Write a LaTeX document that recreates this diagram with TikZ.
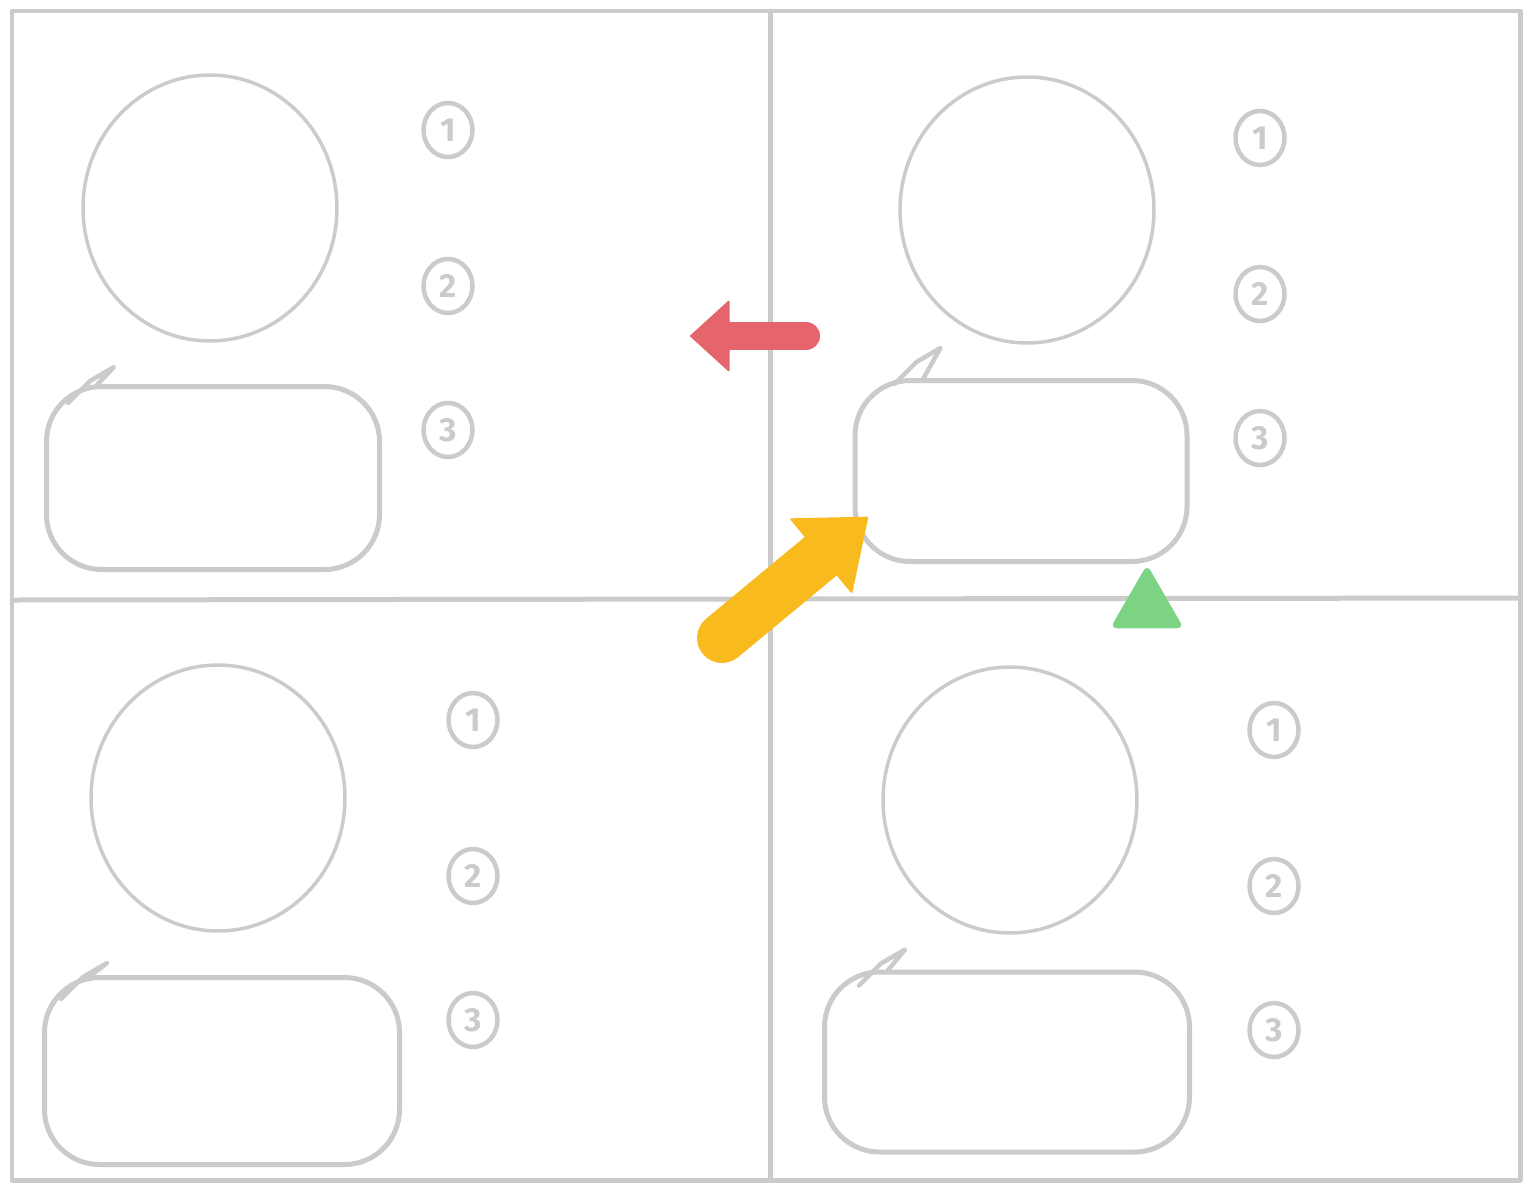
\documentclass[tikz,border=0pt]{standalone}
\usepackage{fontspec}
\setsansfont{Fira Sans}
\usetikzlibrary{arrows.meta,shapes.geometric}
\definecolor{Pencil}{HTML}{CBCBCB}
\definecolor{Coral}{HTML}{E6646B}
\definecolor{Amber}{HTML}{F8BA1D}
\definecolor{Leaf}{HTML}{7BD383}
\tikzset{
  pencil/.style={draw=Pencil,line width=0.1cm,line cap=round,line join=round},
  face/.style={
    ellipse,draw=Pencil,line width=0.07cm,
    minimum width=5.08cm,minimum height=5.32cm,inner sep=0pt
  },
  bubble/.style={
    rectangle,rounded corners=1.1cm,draw=Pencil,line width=0.1cm,inner sep=0pt
  },
  bubbletail/.style={draw=Pencil,line width=0.09cm,line join=round,line cap=round},
  badge/.style={
    ellipse,draw=Pencil,line width=0.09cm,minimum width=0.98cm,minimum height=1.08cm,
    inner sep=0pt,text=Pencil,font=\sffamily\bfseries\fontsize{19}{19}\selectfont
  },
  marker/.style={line width=#1,line cap=round,line join=round}
}

\begin{document}
\begin{tikzpicture}[x=0.02cm,y=-0.02cm]
  \useasboundingbox (0,0) rectangle (1523,1183);
  % page frame and gutters
  \draw[pencil] (12,11) rectangle (1520,1180);
  \draw[pencil] (770,11) -- (770,1180);
  \draw[pencil] (12,600) -- (1520,598);
  % four panels: face, speech bubble, numbered steps
  \foreach \p/\fx/\fy/\bx/\by/\bw/\bh/\tx/\ty/\nx/\ny in {
    tl/210/208/213/478/333/183/70/17/448/130,
    tr/1027/210/1021/471/332/181/88/30/1260/138,
    bl/218/798/222/1071/355/187/65/12/473/720,
    br/1010/800/1007/1062/365/180/83/20/1274/730}
  {
    \node[face] (\p-face) at (\fx,\fy) {};
    \node[bubble,minimum width=\bw*0.02cm,minimum height=\bh*0.02cm] (\p-bubble) at (\bx,\by) {};
    \coordinate (\p-tip) at ([shift={(\tx,-\ty)}]\p-bubble.north west);
    \draw[bubbletail] ([shift={(-46,36)}]\p-tip) -- ([shift={(-24,14)}]\p-tip)
      -- (\p-tip) -- ([shift={(-18,\ty+2)}]\p-tip);
    \node[badge] (\p-one) at (\nx,\ny) {1};
    \node[badge] (\p-two) at (\nx,\ny+156) {2};
    \node[badge] (\p-three) at (\nx,\ny+300) {3};
  }
  % markers
  \coordinate (back-from) at (806,336);
  \coordinate (back-to) at (690,336);
  \draw[Coral,marker=0.56cm,-{Triangle[length=0.8cm,width=1.45cm,line width=1pt,round]}]
    (back-from) -- (back-to);
  \coordinate (push-from) at (722,638);
  \coordinate (push-to) at (868,517);
  \draw[Amber,marker=1cm,-{Triangle[length=1.24cm,width=1.96cm,line width=1pt,round]}]
    (push-from) -- (push-to);
  \node[regular polygon,regular polygon sides=3,fill=Leaf,rounded corners=4pt,
    minimum size=1.7cm,inner sep=0pt] (flag) at (1147,607) {};
\end{tikzpicture}
\end{document}
